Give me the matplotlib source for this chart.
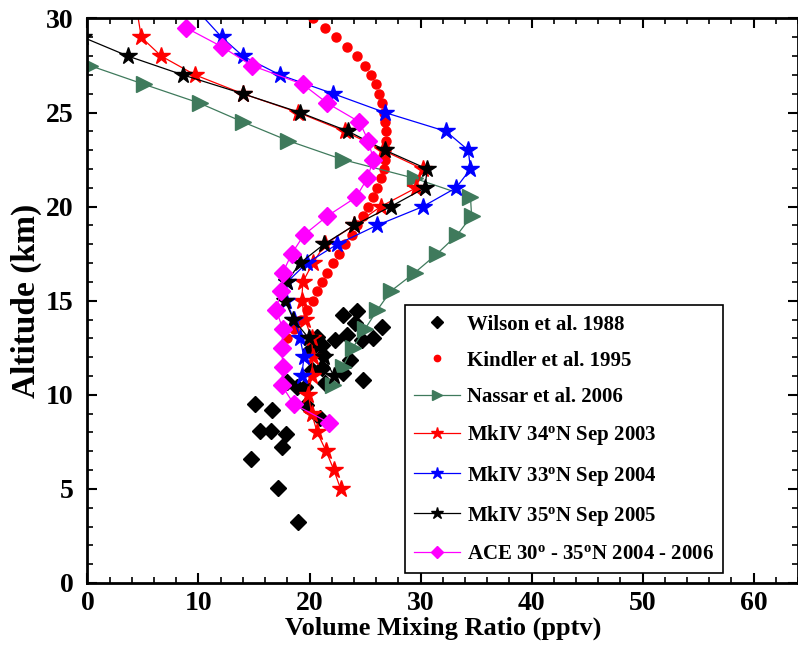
import matplotlib
matplotlib.use('Agg')
import matplotlib.pyplot as plt
from matplotlib.ticker import MultipleLocator

plt.rcParams['font.family'] = ['Liberation Serif', 'DejaVu Serif']
plt.rcParams['font.weight'] = 'bold'
plt.rcParams['mathtext.fontset'] = 'custom'
plt.rcParams['mathtext.rm'] = 'Liberation Serif:bold'
plt.rcParams['mathtext.it'] = 'Liberation Serif:bold'
plt.rcParams['mathtext.bf'] = 'Liberation Serif:bold'

# ---------------- data ----------------
wilson_x = [23.05, 24.25, 24.1, 26.5, 23.35, 22.3, 24.7, 25.75, 20.7, 21.1,
            20.05, 21.25, 23.65, 21.1, 20.2, 23.05, 24.85, 17.95, 18.85, 19.6,
            21.4, 15.1, 16.6, 19.7, 20.95, 15.5, 16.5, 17.9, 17.5, 14.7, 17.2, 19.0]
wilson_alt = [14.24, 14.45, 13.8, 13.62, 13.18, 12.91, 12.91, 13.0, 13.09, 12.65,
              12.38, 12.11, 11.85, 11.41, 11.32, 11.16, 10.79, 10.68, 10.43, 10.43,
              10.63, 9.51, 9.19, 9.46, 8.75, 8.09, 8.09, 7.9, 7.24, 6.59, 5.03, 3.26]

kindler_alt = [30.0, 29.5, 29.0, 28.5, 28.0, 27.5, 27.0, 26.5, 26.0, 25.5, 25.0,
               24.5, 24.0, 23.5, 23.0, 22.5, 22.0, 21.5, 21.0, 20.5, 20.0, 19.5,
               19.0, 18.5, 18.0, 17.5, 17.0, 16.5, 16.0, 15.5, 15.0, 14.5, 14.0,
               13.5, 13.0]
kindler_x = [20.3, 21.4, 22.4, 23.4, 24.3, 25.0, 25.5, 26.0, 26.3, 26.5, 26.7,
             26.8, 26.9, 26.9, 26.9, 26.8, 26.7, 26.4, 26.1, 25.7, 25.3, 24.8,
             24.3, 23.8, 23.2, 22.7, 22.1, 21.6, 21.1, 20.7, 20.3, 19.8, 19.2,
             18.6, 18.0]

nassar_alt = [27.5, 26.5, 25.5, 24.5, 23.5, 22.5, 21.5, 20.5, 19.5, 18.5, 17.5,
              16.5, 15.5, 14.5, 13.5, 12.5, 11.5, 10.5]
nassar_x = [0.2, 5.1, 10.1, 14.0, 18.1, 23.0, 29.5, 34.5, 34.6, 33.3, 31.5,
            29.5, 27.3, 26.1, 25.0, 23.9, 23.0, 22.1]

mk2003_alt = [31, 29, 28, 27, 26, 25, 24, 23, 22, 21, 20, 19, 18, 17, 16, 15, 14,
              13, 12, 11, 10, 9, 8, 7, 6, 5]
mk2003_x = [4.3, 4.85, 6.65, 9.7, 14.0, 19.0, 23.2, 26.6, 30.2, 29.6, 26.4, 24.0,
            21.4, 20.3, 19.4, 19.3, 19.6, 20.2, 20.3, 20.2, 19.9, 20.2, 20.7, 21.5,
            22.2, 22.8]

mk2004_alt = [31, 29, 28, 27, 26, 25, 24, 23, 22, 21, 20, 19, 18, 17, 16, 15, 14,
              13, 12, 11]
mk2004_x = [9.0, 12.1, 14.0, 17.35, 22.15, 26.8, 32.3, 34.3, 34.5, 33.2, 30.2, 26.05,
            22.5, 19.75, 18.0, 17.9, 18.6, 19.15, 19.5, 19.3]

mk2005_alt = [29, 28, 27, 26, 25, 24, 23, 22, 21, 20, 19, 18, 17, 16, 15, 14, 13,
              12, 11]
mk2005_x = [-0.4, 3.65, 8.6, 14.0, 19.15, 23.5, 26.8, 30.6, 30.4, 27.3, 24.0, 21.3,
            19.15, 17.95, 17.8, 18.55, 19.95, 21.3, 22.2]

ace_alt = [29.5, 28.5, 27.5, 26.5, 25.5, 24.5, 23.5, 22.5, 21.5, 20.5, 19.5, 18.5,
           17.5, 16.5, 15.5, 14.5, 13.5, 12.5, 11.5, 10.5, 9.5, 8.5]
ace_x = [8.9, 12.1, 14.8, 19.4, 21.6, 24.5, 25.3, 25.75, 25.2, 24.2, 21.6, 19.5,
         18.4, 17.6, 17.4, 17.0, 17.6, 17.5, 17.6, 17.5, 18.6, 21.8]

labels = ['Wilson et al. 1988', 'Kindler et al. 1995', 'Nassar et al. 2006',
          r'MkIV 34$^{\mathrm{o}}$N Sep 2003', r'MkIV 33$^{\mathrm{o}}$N Sep 2004',
          r'MkIV 35$^{\mathrm{o}}$N Sep 2005', r'ACE 30$^{\mathrm{o}}$ - 35$^{\mathrm{o}}$N 2004 - 2006']

green = '#3f7a5c'

# ---------------- figure ----------------
fig = plt.figure(figsize=(7.98, 6.6), dpi=100)
ax = fig.add_axes([0.1096, 0.1167, 0.8904, 0.8553])

ax.plot(wilson_x, wilson_alt, linestyle='none', marker='D', ms=8.5, color='black',
        label=labels[0])
ax.plot(kindler_x, kindler_alt, linestyle='none', marker='o', ms=6.5, color='red',
        markeredgecolor='red', label=labels[1])
ax.plot(nassar_x, nassar_alt, '-', lw=0.9, marker='>', ms=11, color=green,
        label=labels[2])
ax.plot(mk2003_x, mk2003_alt, '-', lw=0.9, marker='*', ms=13, color='red',
        label=labels[3])
ax.plot(mk2004_x, mk2004_alt, '-', lw=0.9, marker='*', ms=13, color='blue',
        label=labels[4])
ax.plot(mk2005_x, mk2005_alt, '-', lw=0.9, marker='*', ms=13, color='black',
        label=labels[5])
ax.plot(ace_x, ace_alt, '-', lw=0.9, marker='D', ms=9, color='#ff00ff',
        label=labels[6])

ax.set_xlim(0, 64)
ax.set_ylim(0, 30)
ax.xaxis.set_major_locator(MultipleLocator(10))
ax.xaxis.set_minor_locator(MultipleLocator(2))
ax.yaxis.set_major_locator(MultipleLocator(5))
ax.yaxis.set_minor_locator(MultipleLocator(1))
ax.tick_params(which='both', direction='in', top=True, right=True)
ax.tick_params(which='major', length=7, width=1.5, labelsize=20)
ax.tick_params(axis='x', which='major', pad=6)
ax.tick_params(axis='y', which='major', pad=10)
ax.tick_params(which='minor', length=4, width=1.2)
for s in ax.spines.values():
    s.set_linewidth(2)
for lab in ax.get_xticklabels() + ax.get_yticklabels():
    lab.set_fontweight('bold')

ax.set_xlabel('Volume Mixing Ratio (pptv)', fontsize=19, fontweight='bold', labelpad=0)
ax.set_ylabel('Altitude (km)', fontsize=24, fontweight='bold', labelpad=3)

leg = ax.legend(loc='lower left', bbox_to_anchor=(0.447, 0.017), borderaxespad=0,
                fontsize=15, frameon=True, fancybox=False, edgecolor='black',
                framealpha=1, handlelength=2.2, handletextpad=0.3,
                labelspacing=0.78, markerscale=0.7, borderpad=0.45)
leg.get_frame().set_linewidth(1.2)
for t in leg.get_texts():
    t.set_fontweight('bold')

fig.savefig('out.png', dpi=100)
